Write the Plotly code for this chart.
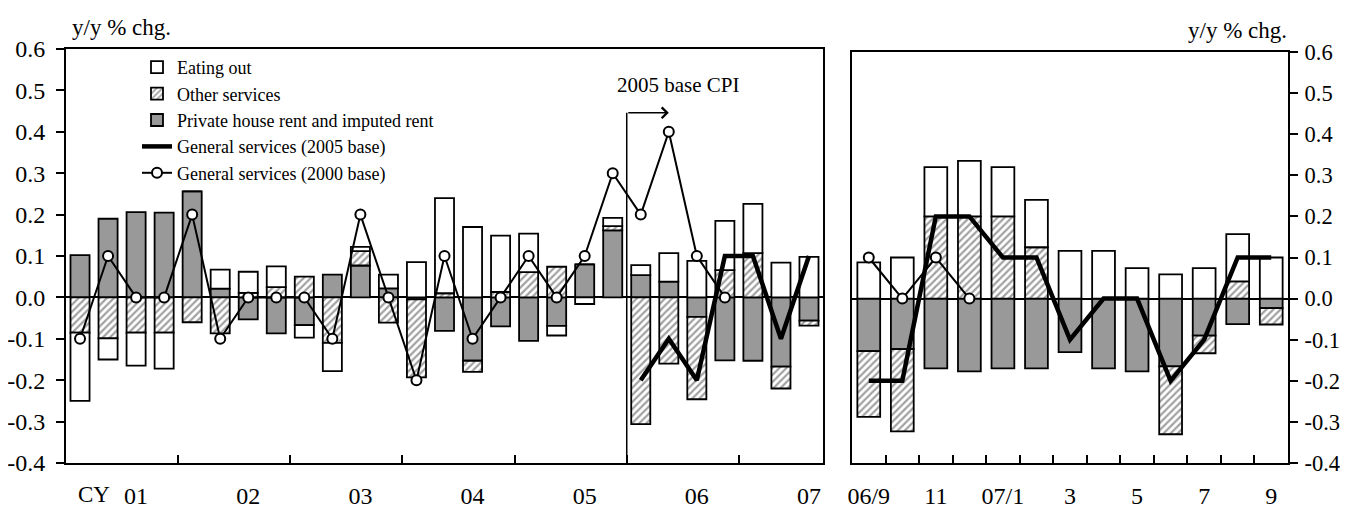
import plotly.graph_objects as go

# ---------------- data ----------------
quarters = [f"{y}Q{q}" for y in range(2001, 2008) for q in range(1, 5)][:27]

rent_q = [0.102, 0.19, 0.206, 0.205, 0.256, 0.021, -0.053, -0.087, -0.067, 0.055,
          0.077, 0.022, -0.005, -0.081, -0.153, -0.07, -0.105, -0.069, 0.08, 0.162,
          0.054, 0.038, -0.047, -0.152, -0.153, -0.167, -0.056]
other_q = [-0.085, -0.099, -0.085, -0.085, -0.06, -0.087, 0.011, 0.025, 0.05, -0.11,
           0.035, -0.061, -0.188, 0.01, -0.027, 0.013, 0.061, 0.074, 0.0, 0.01,
           -0.306, -0.16, -0.199, 0.066, 0.107, -0.053, -0.012]
eating_q = [-0.165, -0.051, -0.08, -0.087, 0.0, 0.046, 0.051, 0.05, -0.03, -0.068,
            0.01, 0.033, 0.085, 0.23, 0.17, 0.136, 0.093, -0.023, -0.016, 0.02,
            0.024, 0.069, 0.088, 0.119, 0.119, 0.084, 0.098]
gen2000_q = [-0.1, 0.1, 0.0, 0.0, 0.2, -0.1, 0.0, 0.0, 0.0, -0.1, 0.2, 0.0,
             -0.2, 0.1, -0.1, 0.0, 0.1, 0.0, 0.1, 0.3, 0.2, 0.4, 0.1, 0.0]
gen2005_q = [-0.2, -0.1, -0.2, 0.1, 0.1, -0.1, 0.1]          # 2006Q1 - 2007Q3

months = ["06/9", "06/10", "06/11", "06/12", "07/1", "07/2", "07/3", "07/4",
          "07/5", "07/6", "07/7", "07/8", "07/9"]
rent_m = [-0.128, -0.123, -0.17, -0.177, -0.17, -0.17, -0.13, -0.17, -0.177,
          -0.165, -0.09, -0.062, -0.023]
other_m = [-0.16, -0.20, 0.2, 0.2, 0.2, 0.125, 0.0, 0.0, 0.0, -0.165, -0.043,
           0.042, -0.04]
eating_m = [0.088, 0.10, 0.12, 0.135, 0.12, 0.115, 0.116, 0.116, 0.074, 0.059,
            0.074, 0.115, 0.10]
gen2000_m = [0.1, 0.0, 0.1, 0.0]                              # 06/9 - 06/12
gen2005_m = [-0.2, -0.2, 0.2, 0.2, 0.1, 0.1, -0.1, 0.0, 0.0, -0.2, -0.1, 0.1, 0.1]

year_labels = ["01", "02", "03", "04", "05", "06", "07"]
month_labels = ["06/9", "11", "07/1", "3", "5", "7", "9"]
ytick_vals = [-0.4, -0.3, -0.2, -0.1, 0.0, 0.1, 0.2, 0.3, 0.4, 0.5, 0.6]
ytick_text = ["-0.4", "-0.3", "-0.2", "-0.1", "0.0", "0.1", "0.2", "0.3", "0.4", "0.5", "0.6"]

# ---------------- positions ----------------
xq = list(range(len(quarters)))
xm = list(range(len(months)))
year_pos = [quarters.index(f"20{y}Q3") for y in year_labels]
year_bounds = [quarters.index(f"20{y}Q1") - 0.5 for y in year_labels[1:]]
month_pos = [0, 2, 4, 6, 8, 10, 12]
month_bounds = [i + 0.5 for i in xm[:-1]]
x2005_start = quarters.index("2006Q1")
base_switch = x2005_start - 0.5

FONT = "Liberation Serif, Times New Roman, serif"
GRAY = "#999999"
BW = 0.68
LW = 1.8

# page has an 8px body margin: work in window pixels and convert
OFF = 8
W, H = 1349 - OFF, 509 - OFF


def px(p):
    return (p - OFF) / W


def py(p):
    return 1 - (p - OFF) / H


fig = go.Figure()


def add_bars(x, rent, other, eat, xa, ya, legend):
    fig.add_trace(go.Bar(x=x, y=rent, width=BW, name="Private house rent and imputed rent",
                         marker=dict(color=GRAY, line=dict(color="black", width=LW)),
                         xaxis=xa, yaxis=ya, showlegend=legend, legendrank=3))
    fig.add_trace(go.Bar(x=x, y=other, width=BW, name="Other services",
                         marker=dict(color="white", line=dict(color="black", width=LW),
                                     pattern=dict(shape="/", fgcolor="#444444", bgcolor="white",
                                                  size=5, solidity=0.45)),
                         xaxis=xa, yaxis=ya, showlegend=legend, legendrank=2))
    fig.add_trace(go.Bar(x=x, y=eat, width=BW, name="Eating out",
                         marker=dict(color="white", line=dict(color="black", width=LW)),
                         xaxis=xa, yaxis=ya, showlegend=legend, legendrank=1))


add_bars(xq, rent_q, other_q, eating_q, "x", "y", True)
add_bars(xm, rent_m, other_m, eating_m, "x2", "y2", False)

fig.add_trace(go.Scatter(x=xq[x2005_start:x2005_start + len(gen2005_q)], y=gen2005_q,
                         mode="lines", line=dict(color="black", width=4.5),
                         name="General services (2005 base)", legendrank=4,
                         xaxis="x", yaxis="y"))
fig.add_trace(go.Scatter(x=xq[:len(gen2000_q)], y=gen2000_q, mode="lines+markers",
                         line=dict(color="black", width=2),
                         marker=dict(symbol="circle", size=10, color="white",
                                     line=dict(color="black", width=2)),
                         name="General services (2000 base)", legendrank=5,
                         xaxis="x", yaxis="y"))
fig.add_trace(go.Scatter(x=xm, y=gen2005_m, mode="lines", line=dict(color="black", width=4.5),
                         showlegend=False, xaxis="x2", yaxis="y2"))
fig.add_trace(go.Scatter(x=xm[:len(gen2000_m)], y=gen2000_m, mode="lines+markers",
                         line=dict(color="black", width=2),
                         marker=dict(symbol="circle", size=10, color="white",
                                     line=dict(color="black", width=2)),
                         showlegend=False, xaxis="x2", yaxis="y2"))

axis_common = dict(showline=True, linecolor="black", linewidth=2, mirror=True,
                   showgrid=False, automargin=False,
                   tickfont=dict(size=24, color="black", family=FONT))
yaxis_common = dict(axis_common, range=[-0.4, 0.6], tickmode="array", tickvals=ytick_vals,
                    ticktext=ytick_text, ticks="outside", ticklen=8, tickwidth=2,
                    tickcolor="black", zeroline=True, zerolinecolor="black",
                    zerolinewidth=2)

fig.update_layout(
    width=W, height=H, margin=dict(l=0, r=0, t=0, b=0, autoexpand=False),
    paper_bgcolor="white", plot_bgcolor="white",
    barmode="relative",
    font=dict(family=FONT, color="black"),
    xaxis=dict(axis_common, domain=[px(66), px(823)], range=[-0.5, len(quarters) - 0.5],
               tickmode="array", tickvals=year_pos, ticktext=year_labels, ticks="",
               zeroline=False, ticklabelstandoff=10, anchor="y",
               minor=dict(tickmode="array", tickvals=year_bounds, ticks="inside",
                          ticklen=8, tickwidth=2, tickcolor="black", showgrid=False)),
    yaxis=dict(yaxis_common, domain=[py(463), py(49)], anchor="x", ticklabelstandoff=6),
    xaxis2=dict(axis_common, domain=[px(852), px(1288)], range=[-0.5, len(months) - 0.5],
                tickmode="array", tickvals=month_pos, ticktext=month_labels, ticks="",
                zeroline=False, ticklabelstandoff=10, anchor="y2",
                minor=dict(tickmode="array", tickvals=month_bounds, ticks="inside",
                           ticklen=8, tickwidth=2, tickcolor="black", showgrid=False)),
    yaxis2=dict(yaxis_common, domain=[py(463), py(52)], anchor="x2", side="right",
                ticklabelstandoff=2,
                tickfont=dict(size=22.5, color="black", family=FONT)),
    legend=dict(x=px(137), y=py(49), xanchor="left", yanchor="top",
                bgcolor="rgba(0,0,0,0)", borderwidth=0, tracegroupgap=0,
                font=dict(size=18, family=FONT, color="black")),
)

fig.add_shape(type="line", xref="x", yref="y", x0=base_switch, x1=base_switch,
              y0=-0.4, y1=0.446, line=dict(color="black", width=1.5))
fig.add_annotation(xref="x", yref="y", x=x2005_start + 1, y=0.446, ax=base_switch, ay=0.446,
                   axref="x", ayref="y", text="", showarrow=True, arrowhead=4,
                   arrowsize=1.4, arrowwidth=1.5, arrowcolor="black")
fig.add_annotation(xref="x", yref="y", x=x2005_start + 1.36, y=0.514, text="2005 base CPI",
                   xanchor="center", yanchor="middle",
                   showarrow=False, font=dict(size=21, family=FONT, color="black"))
fig.add_annotation(xref="paper", yref="paper", x=px(121), y=py(28), text="y/y % chg.",
                   xanchor="center", yanchor="middle",
                   showarrow=False, font=dict(size=23, family=FONT, color="black"))
fig.add_annotation(xref="paper", yref="paper", x=px(1237), y=py(31), text="y/y % chg.",
                   xanchor="center", yanchor="middle",
                   showarrow=False, font=dict(size=23, family=FONT, color="black"))
fig.add_annotation(xref="x", yref="paper", x=0.5, y=py(494), text="CY",
                   xanchor="center", yanchor="middle", borderpad=0,
                   showarrow=False, font=dict(size=23, family=FONT, color="black"))

fig.write_html("out.html")
